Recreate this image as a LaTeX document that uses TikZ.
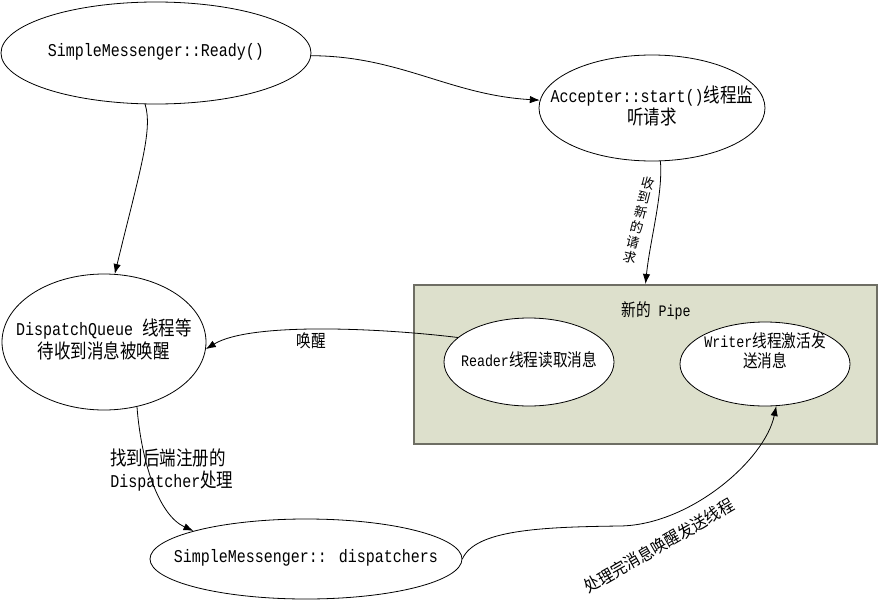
\documentclass[tikz,border=0pt]{standalone}
\usepackage{fontspec}
\setmainfont{Liberation Mono}
\newfontfamily\cjk{Noto Sans CJK SC}[Scale=1.1]
\usetikzlibrary{shapes.geometric,arrows.meta}
\newcommand\zh[1]{{\cjk #1}}
\newcommand\stx[1]{\scalebox{1}[1.2]{\begin{tabular}{@{}c@{}}#1\end{tabular}}}
\newcommand\ltx[1]{\scalebox{1}[1.2]{\begin{tabular}{@{}l@{}}#1\end{tabular}}}
\definecolor{pipefill}{RGB}{221,224,204}
\definecolor{pipeedge}{RGB}{110,110,100}
\begin{document}
\begin{tikzpicture}[x=0.75pt,y=-0.75pt,
  oval/.style={draw,ellipse,fill=white,line width=0.6pt,inner sep=0pt},
  big/.style={font=\fontsize{11.25}{12.5}\selectfont, inner sep=0pt},
  small/.style={font=\fontsize{10}{11}\selectfont, inner sep=0pt},
  conn/.style={line width=0.6pt,-{Latex[length=7.5pt,width=5.5pt]}}]
\useasboundingbox (0,0) rectangle (879,600);

% pipe box
\node[draw=pipeedge, fill=pipefill, line width=1.5pt, minimum width=347.25pt, minimum height=119.25pt, inner sep=0pt] (box) at (645.5,364.5) {};
\node[small] (pipelbl) at (656,312) {\stx{\zh{新的} Pipe}};

% ellipses
\node[oval, minimum width=232.5pt, minimum height=76.5pt] (A) at (156,53) {};
\node[oval, minimum width=169.5pt, minimum height=79.5pt] (B) at (652,108) {};
\node[oval, minimum width=153pt, minimum height=102pt] (C) at (104,342) {};
\node[oval, minimum width=127.5pt, minimum height=66pt] (D) at (529,362) {};
\node[oval, minimum width=127.5pt, minimum height=63pt] (E) at (765,364) {};
\node[oval, minimum width=234pt, minimum height=60pt] (F) at (306,559) {};

% texts
\node[big] (At) at (156,52) {\stx{SimpleMessenger::Ready()}};
\node[big] (Bt) at (652,108) {\stx{Accepter::start()\zh{线程监}\\\zh{听请求}}};
\node[big] (Ct) at (104,342) {\stx{DispatchQueue \zh{线程等}\\\zh{待收到消息被唤醒}}};
\node[small] (Dt) at (529,362) {\stx{Reader\zh{线程读取消息}}};
\node[small] (Et) at (765,353) {\stx{Writer\zh{线程激活发}\\\zh{送消息}}};
\node[big] (Ft) at (306,558) {\stx{SimpleMessenger:: dispatchers}};

% connectors
\draw[conn] (A.-1) .. controls (400,56) and (450,95) .. (B.176);
\draw[conn] (A.-102) .. controls (153,130) and (140,170) .. (C.81);
\draw[conn] (B.-81) .. controls (663,195) and (650,240) .. (box.north);
\draw[conn] (D.161) .. controls (380,328) and (250,322) .. (C.-4);
\draw[conn] (C.-63) .. controls (141,460) and (158,515) .. (F.166);
\draw[conn] (F.east) .. controls (475,530) and (540,527) .. (620,526)
   .. controls (690,525) and (765,460) .. (E.-75);

% connector labels
\node[inner sep=0pt, rotate=-14, font=\fontsize{9}{11.5}\selectfont\cjk, align=center] (lblBP) at (639,220) {收\\到\\新\\的\\请\\求};
\node[small] (lblDC) at (311,343) {\stx{\zh{唤醒}}};
\node[big, anchor=west] (lblCF) at (110,471) {\ltx{\zh{找到后端注册的}\\Dispatcher\zh{处理}}};
\node[inner sep=0pt, rotate=30, font=\fontsize{10.5}{11}\selectfont] (lblFE) at (659,546) {\scalebox{1}[1.1]{\zh{处理完消息唤醒发送线程}}};
\end{tikzpicture}
\end{document}
